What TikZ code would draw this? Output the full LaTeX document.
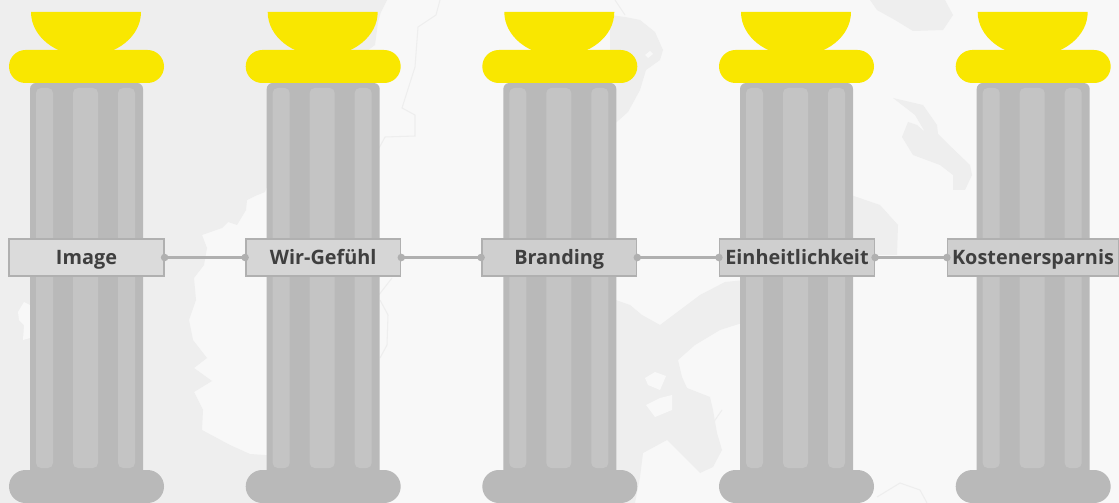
\documentclass[tikz,border=0pt]{standalone}
\usepackage{fontspec}
\setmainfont{Open Sans}
\usetikzlibrary{arrows.meta}

\definecolor{seacol}{HTML}{F8F8F8}
\definecolor{landcol}{HTML}{EEEEEE}
\definecolor{shaftcol}{HTML}{B9B9B9}
\definecolor{flutecol}{HTML}{C4C4C4}
\definecolor{capcol}{HTML}{F9E700}
\definecolor{edgecol}{HTML}{B0B0B0}
\definecolor{textcol}{HTML}{3F3F3F}

\tikzset{
  land/.style={fill=landcol},
  coast/.style={draw=landcol,line width=0.6pt},
  labelbox/.style={draw=edgecol,line width=0.9pt,fill=#1,text=textcol,inner sep=0pt,
    minimum height=0.74cm,text height=11.5pt,text depth=3pt,
    font=\fontsize{11.3}{13}\bfseries\selectfont},
  link/.style={draw=edgecol,line width=1.2pt,shorten <=-2.2pt,shorten >=-2.2pt,
    {Circle[length=4.2pt]}-{Circle[length=4.2pt]}},
}

\begin{document}
\begin{tikzpicture}[x=0.02cm,y=-0.02cm]

\useasboundingbox (0,0) rectangle (1119,503);
\fill[seacol] (0,0) rectangle (1119,503);

% map behind the pillars
\path[land] (0,0) -- (387,0) -- (381,12) -- (378,22) -- (375,45) -- (300,100) -- (265,192)
  -- (255,196) -- (247,200) -- (246,210) -- (237,225) -- (228,222) -- (222,228) -- (202,235)
  -- (207,248) -- (204,265) -- (194,278) -- (196,300) -- (189,320) -- (193,340) -- (207,358)
  -- (194,368) -- (212,381) -- (194,392) -- (203,410) -- (202,430) -- (230,445) -- (250,454)
  -- (265,455) -- (300,458) -- (300,503) -- (0,503) -- cycle;
\fill[seacol] (18,312) -- (24,302) -- (30,305) -- (30,338) -- (23,340) -- (24,325) -- (19,320) -- cycle;
\path[land] (610,15) -- (625,17) -- (640,20) -- (655,32) -- (663,50) -- (660,60) -- (646,70)
  -- (640,90) -- (628,112) -- (610,128) -- cycle;
\fill[seacol] (645,55) -- (650,51) -- (653,54) -- (648,58) -- cycle;
\path[land] (610,298) -- (630,305) -- (642,315) -- (660,325) -- (680,310) -- (700,295) -- (725,282)
  -- (745,280) -- (745,322) -- (720,330) -- (695,345) -- (678,360) -- (682,377) -- (687,388)
  -- (710,397) -- (713,410) -- (717,433) -- (722,450) -- (713,467) -- (700,473) -- (690,463)
  -- (667,440) -- (643,453) -- (640,477) -- (635,503) -- (610,503) -- cycle;
\fill[seacol] (645,378) -- (655,372) -- (666,376) -- (660,390) -- (648,385) -- cycle;
\fill[seacol] (646,405) -- (660,398) -- (672,395) -- (672,410) -- (655,417) -- cycle;
\path[land] (870,0) -- (877,10) -- (895,20) -- (913,31) -- (943,30) -- (953,15) -- (945,0) -- cycle;
\path[land] (893,98) -- (923,105) -- (937,125) -- (938,134) -- (947,143) -- (970,165) -- (972,175)
  -- (965,190) -- (953,190) -- (953,175) -- (940,165) -- (913,155) -- (902,137) -- (908,122)
  -- (917,125) -- (925,132) -- (915,115) -- cycle;
\path[land] (845,193) -- (880,205) -- (898,225) -- (897,255) -- (845,255) -- cycle;
\path[coast] (440,0) -- (436,15) -- (418,27) -- (415,67) -- (402,108) -- (415,115) -- (415,136)
  -- (385,137) -- (378,150);
\path[coast] (378,296) -- (392,278);
\path[coast] (380,358) -- (387,345) -- (388,315) -- (380,300);
\path[coast] (615,0) -- (625,15);
\path[coast] (877,497) -- (900,483) -- (920,490) -- (927,503);
\path[coast] (713,423) -- (722,410);

% the pillars
\foreach \dx in {0,236.7,473.3,710,946.7}{
  \begin{scope}[shift={(\dx,0)}]
    \fill[shaftcol,rounded corners=0.12cm] (30,83) rectangle (143,490);
    \foreach \xa/\xb in {36/53,73/98,118/135}
      \fill[flutecol,rounded corners=0.1cm] (\xa,88) rectangle (\xb,468);
    \fill[shaftcol,rounded corners=0.33cm] (9,470) rectangle (164,503);
    \fill[capcol] (31,12) .. controls (31,36.3) and (55.6,56) .. (86,56)
      .. controls (116.4,56) and (141,36.3) .. (141,12) -- cycle;
    \fill[capcol,rounded corners=0.33cm] (9,50) rectangle (164,83);
  \end{scope}
}

% labels and connectors
\node[labelbox=black!14,minimum width=3.1cm] (image) at (86.5,257.5) {Image};
\node[labelbox=black!16,minimum width=3.1cm] (wir) at (323.2,257.5) {Wir-Gefühl};
\node[labelbox=black!19,minimum width=3.1cm] (branding) at (559.2,257.5) {Branding};
\node[labelbox=black!19,minimum width=3.1cm] (einheit) at (797,257.5) {Einheitlichkeit};
\node[labelbox=black!19,minimum width=3.42cm] (kosten) at (1033,257.5) {Kostenersparnis};

\draw[link] (image) -- (wir);
\draw[link] (wir) -- (branding);
\draw[link] (branding) -- (einheit);
\draw[link] (einheit) -- (kosten);

\end{tikzpicture}
\end{document}
